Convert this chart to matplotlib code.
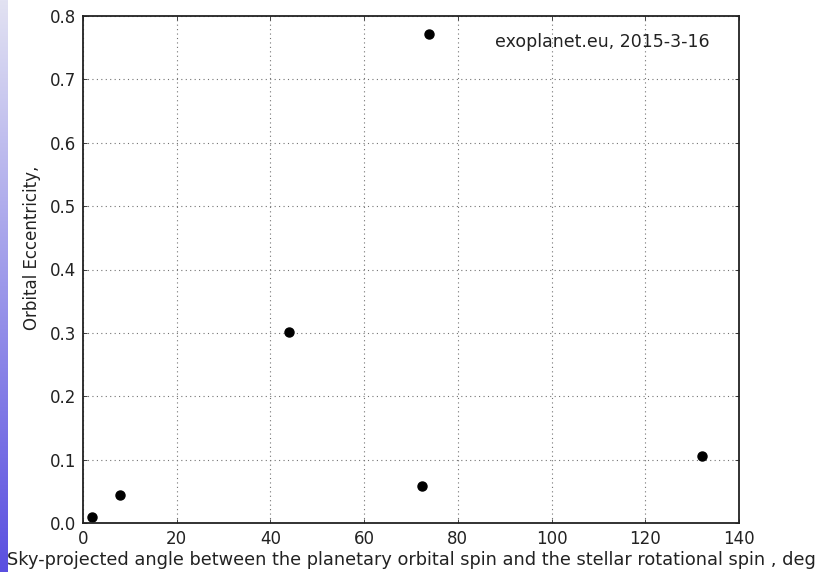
import numpy as np
import matplotlib
matplotlib.use("Agg")
import matplotlib.pyplot as plt

# spin-orbit angle (deg) vs orbital eccentricity
angle_deg = [1.9, 7.8, 44.0, 73.9, 72.4, 132.0]
eccentricity = [0.009, 0.044, 0.301, 0.772, 0.059, 0.105]

x_ticks = [0, 20, 40, 60, 80, 100, 120, 140]
y_ticks = [0.0, 0.1, 0.2, 0.3, 0.4, 0.5, 0.6, 0.7, 0.8]
source_note = "exoplanet.eu, 2015-3-16"

plt.rcParams['font.family'] = ['DejaVu Sans']
plt.rcParams['font.size'] = 12

fig = plt.figure(figsize=(8.19, 5.72), dpi=100)

# thin gradient strip down the left edge
strip = fig.add_axes([0, 0, 7 / 819, 1])
grad = np.linspace(0, 1, 256).reshape(-1, 1)
cmap = matplotlib.colors.LinearSegmentedColormap.from_list(
    "strip", ["#e2e2f2", "#9c98ea", "#5a4fe0"])
strip.imshow(grad, aspect='auto', cmap=cmap)
strip.set_axis_off()

ax = fig.add_axes([83 / 819, 1 - 523 / 572, (739 - 83) / 819, (523 - 16) / 572])
ax.plot(angle_deg, eccentricity, 'o', color='k', markersize=6.5)

ax.set_xlim(0, 140)
ax.set_ylim(0, 0.8)
ax.set_xticks(x_ticks)
ax.set_yticks(y_ticks)
ax.set_yticklabels(["%.1f" % v for v in y_ticks])
ax.tick_params(direction='in', length=3, width=0.6, top=True, right=True,
               pad=5, labelsize=12, colors='#222222')
ax.grid(True, color='0.45', linestyle=(0, (1, 3)), linewidth=0.8)
for s in ax.spines.values():
    s.set_linewidth(1.3)
    s.set_color('#222222')

ax.text(88, 0.759, source_note, va='center', ha='left', fontsize=12.5,
        color='#222222')

ax.set_xlabel("Sky-projected angle between the planetary orbital spin and "
              "the stellar rotational spin , deg", fontsize=12.8, labelpad=2,
              color='#222222')
fig.text(32 / 819, 1 - 248 / 572, "Orbital Eccentricity,", rotation=90,
         ha='center', va='center', fontsize=12, color='#222222')

fig.savefig("out.png", dpi=100)
